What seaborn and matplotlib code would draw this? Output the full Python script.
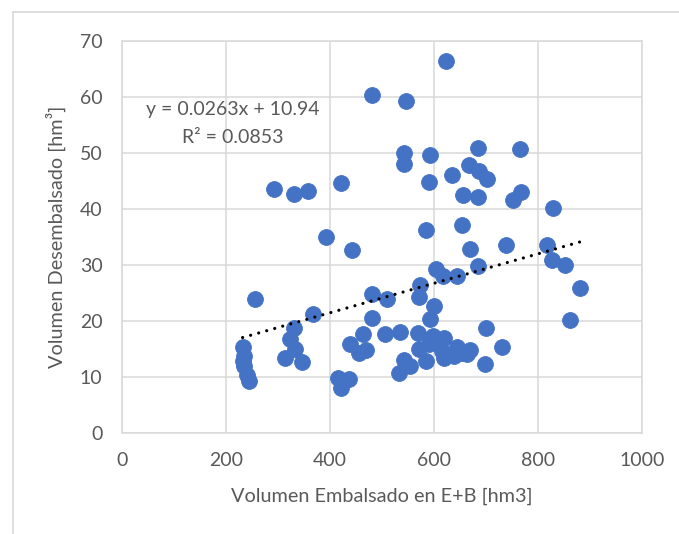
import matplotlib
matplotlib.use("Agg")
import matplotlib.pyplot as plt
from matplotlib.lines import Line2D
import numpy as np
import pandas as pd
import seaborn as sns

# Stored volume (E+B) vs released volume, hm3
vol_embalsado = [
    624, 480, 546, 543, 543, 592, 685, 766, 668, 686, 701, 634, 590,
    293, 331, 357, 422, 655, 685, 751, 768, 828, 585, 653, 392, 443,
    669, 739, 818, 827, 852, 604, 617, 644, 684, 880, 861, 256, 480,
    510, 573, 572, 601, 593, 480, 368,
    330, 324, 332, 313, 346,
    233, 234, 232, 235, 240, 245,
    416, 436, 422,
    464, 506, 535, 439, 455, 470,
    532, 553, 542, 585,
    570, 599, 620, 571, 590, 606, 615, 644, 654, 670, 638, 619, 664,
    700, 730, 699,
]
vol_desembalsado = [
    66.4, 60.4, 59.3, 49.9, 48.1, 49.6, 50.8, 50.7, 47.9, 46.8, 45.4, 46.1, 44.8,
    43.5, 42.7, 43.2, 44.6, 42.4, 42.2, 41.6, 43.1, 40.1, 36.2, 37.2, 35.0, 32.6,
    32.8, 33.5, 33.5, 30.8, 29.9, 29.3, 28.0, 28.0, 29.8, 25.8, 20.2, 24.0, 24.8,
    24.0, 26.5, 24.3, 22.7, 20.4, 20.5, 21.2,
    18.7, 16.7, 15.0, 13.4, 12.7,
    15.4, 13.7, 12.9, 11.9, 10.4, 9.2,
    9.9, 9.7, 8.1,
    17.7, 17.7, 18.1, 15.9, 14.3, 14.8,
    10.8, 11.9, 13.1, 12.8,
    17.8, 17.3, 17.0, 15.0, 15.8, 16.1, 14.7, 15.3, 14.3, 14.9, 13.7, 13.4, 14.1,
    18.8, 15.3, 12.4,
]

# Linear trend line as reported
slope = 0.0263
intercept = 10.94
r2 = 0.0853

x_ticks = [0, 200, 400, 600, 800, 1000]
y_ticks = [0, 10, 20, 30, 40, 50, 60, 70]

df = pd.DataFrame({"emb": vol_embalsado, "des": vol_desembalsado})

sns.set_style("white")
plt.rcParams["font.family"] = ["Lato", "DejaVu Sans"]

text_color = "#595959"
grid_color = "#d9d9d9"
blue = "#4472C4"

fig = plt.figure(figsize=(6.79, 5.34), dpi=100)
ax = fig.add_axes([0.1796, 0.1891, 0.7659, 0.7345])

sns.scatterplot(data=df, x="emb", y="des", ax=ax, color=blue, s=130,
                linewidth=0.6, edgecolor=blue, zorder=3)

xs = np.array([min(vol_embalsado), max(vol_embalsado)])
ax.plot(xs, slope * xs + intercept, color="black", linestyle=(0, (0.01, 2.6)),
        linewidth=2.3, dash_capstyle="round", zorder=4)

ax.set_xlim(0, 1000)
ax.set_ylim(0, 70)
ax.set_xticks(x_ticks)
ax.set_yticks(y_ticks)
ax.grid(True, color=grid_color, linewidth=1.1, zorder=0)
ax.set_axisbelow(True)
for side in ["top", "right", "left", "bottom"]:
    ax.spines[side].set_color(grid_color)
    ax.spines[side].set_linewidth(1.1)
ax.tick_params(axis="both", length=0, labelsize=14, labelcolor=text_color)
ax.tick_params(axis="y", pad=14)
ax.tick_params(axis="x", pad=14)

ax.set_xlabel("Volumen Embalsado en E+B [hm3]", fontsize=14.3, color=text_color,
              labelpad=13)
ax.set_ylabel("Volumen Desembalsado [hm³]", fontsize=14.3, color=text_color,
              labelpad=10)

ax.text(214, 57.7, f"y = {slope}x + {intercept}", ha="center", va="center",
        fontsize=14, color=text_color)
ax.text(214, 52.7, f"R² = {r2}", ha="center", va="center",
        fontsize=14, color=text_color)

# Chart frame
fig.add_artist(Line2D([13 / 679, 13 / 679], [0, 1 - 12 / 534],
                      transform=fig.transFigure, color=grid_color, linewidth=1.2))
fig.add_artist(Line2D([13 / 679, 1], [1 - 12 / 534, 1 - 12 / 534],
                      transform=fig.transFigure, color=grid_color, linewidth=1.2))

fig.savefig("out.png", dpi=100, facecolor="white")
